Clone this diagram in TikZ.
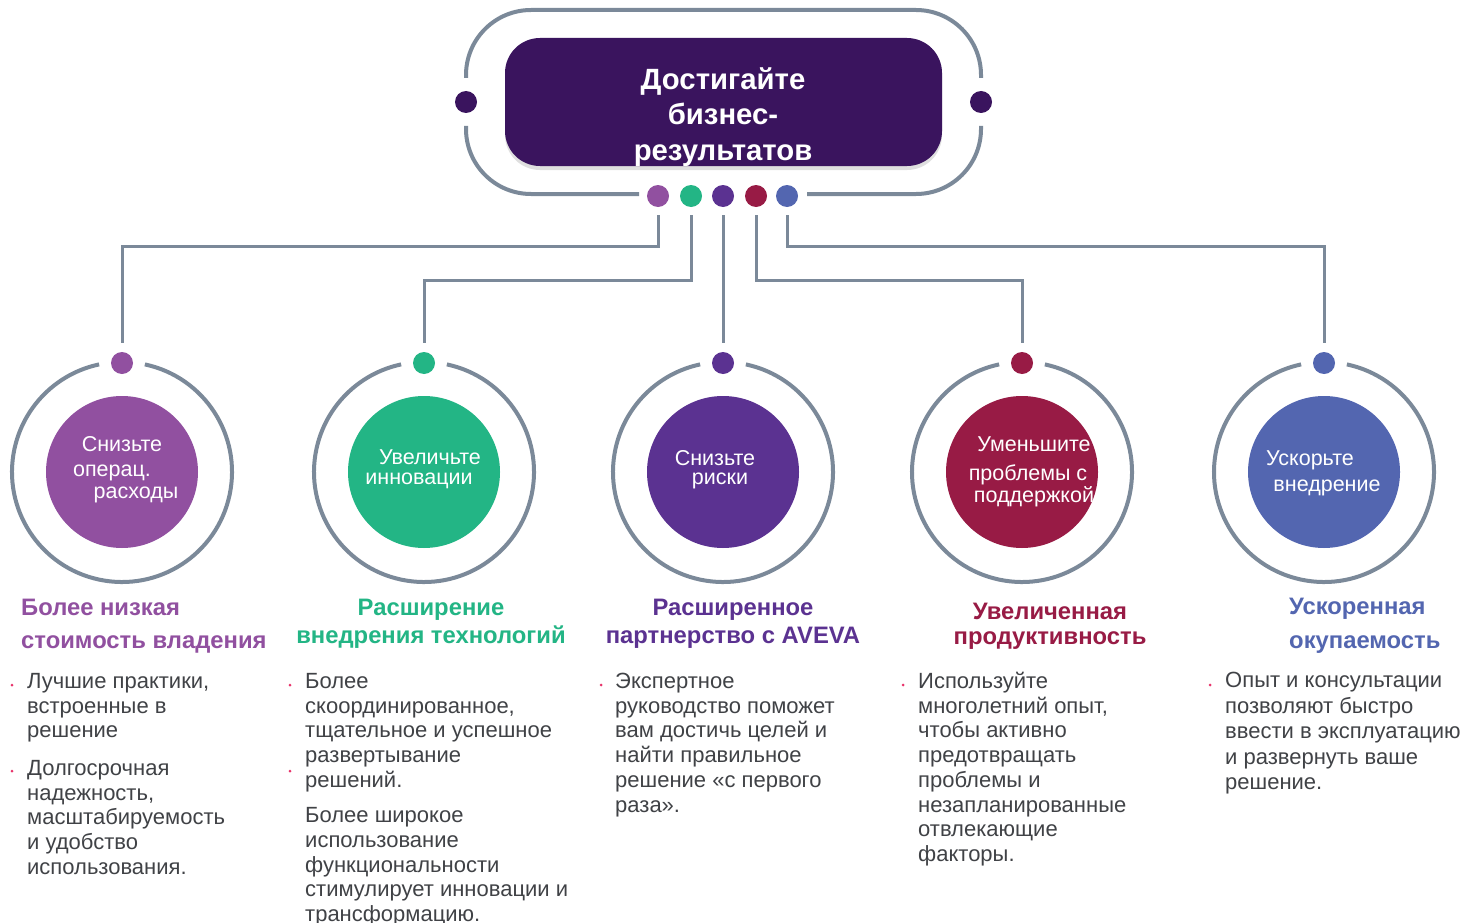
\documentclass[tikz,border=0pt]{standalone}
\usepackage{fontspec}
\setmainfont{Liberation Sans}
\usetikzlibrary{shadows}
\definecolor{framec}{HTML}{7B8999}
\definecolor{darkp}{HTML}{3A145E}
\definecolor{cA}{HTML}{9150A0}
\definecolor{cB}{HTML}{23B585}
\definecolor{cC}{HTML}{5B3291}
\definecolor{cD}{HTML}{981B45}
\definecolor{cE}{HTML}{5366B0}
\definecolor{bodyc}{HTML}{404246}
\definecolor{bulc}{HTML}{E8336B}
\begin{document}
\begin{tikzpicture}[x=1pt,y=-1pt,
  framel/.style={draw=framec,line width=4pt},
  conn/.style={draw=framec,line width=3pt,shorten <=8pt,shorten >=9pt},
  dotn/.style={circle,inner sep=0pt,minimum size=22pt},
  big/.style={circle,inner sep=0pt,minimum size=152pt},
  ctext/.style={text=white,font=\fontsize{21.5}{24}\selectfont,inner sep=0pt},
  head/.style={font=\fontsize{23.8}{28}\selectfont\bfseries,inner sep=0pt},
  bodyt/.style={text=bodyc,font=\fontsize{22}{24.7}\selectfont,align=left,inner sep=0pt,anchor=north west},
  bullet/.style={circle,fill=bulc,inner sep=0pt,minimum size=3pt}
]
\useasboundingbox (0,0) rectangle (1477,923);
\fill[white] (0,0) rectangle (1477,923);

% top frame
\draw[framel,rounded corners=65pt] (466,126) -- (466,194) -- (639,194);
\draw[framel,rounded corners=65pt] (807,194) -- (981,194) -- (981,126);
\draw[framel,rounded corners=65pt] (466,78) -- (466,10) -- (981,10) -- (981,78);

\node[fill=darkp,rounded corners=35pt,minimum width=437pt,minimum height=128pt,inner sep=0pt,
  drop shadow={shadow xshift=0pt,shadow yshift=-4pt,opacity=0.25}] (box) at (723.5,102) {};
\node[text=white,font=\fontsize{29.3}{35.5}\selectfont\bfseries,align=center,inner sep=0pt] (title) at (723,117) {Достигайте\\бизнес-\\результатов};

\node[dotn,fill=darkp] (dl) at (466,102) {};
\node[dotn,fill=darkp] (dr) at (981,102) {};

\node[dotn,fill=cA] (t1) at (658,196) {};
\node[dotn,fill=cB] (t2) at (691,196) {};
\node[dotn,fill=cC] (t3) at (723,196) {};
\node[dotn,fill=cD] (t4) at (756,196) {};
\node[dotn,fill=cE] (t5) at (787,196) {};

% rings
\foreach \cx/\col/\nm in {122/cA/1,424/cB/2,723/cC/3,1022/cD/4,1324/cE/5}{
  \draw[framel] (\cx,472) ++(282:110) arc[start angle=282,end angle=618,radius=110];
  \node[big,fill=\col] (c\nm) at (\cx,472) {};
  \node[dotn,fill=\col] (r\nm) at (\cx,363) {};
}

% connectors
\draw[conn] (t1.south) -- ++(0,39.5) -| (r1.north);
\draw[conn] (t2.south) -- ++(0,73.5) -| (r2.north);
\draw[conn] (t3.south) -- (r3.north);
\draw[conn] (t4.south) -- ++(0,73.5) -| (r4.north);
\draw[conn] (t5.south) -- ++(0,39.5) -| (r5.north);

% circle texts
\node[ctext] (a1) at (122,444) {Снизьте};
\node[ctext] (a2) at (112,473) {операц.};
\node[ctext] (a3) at (136,495) {расходы};
\node[ctext] (b1) at (430,457) {Увеличьте};
\node[ctext] (b2) at (419,481) {инновации};
\node[ctext] (e1) at (715,458) {Снизьте};
\node[ctext] (e2) at (720,481) {риски};
\node[ctext] (d1) at (1034,444) {Уменьшите};
\node[ctext] (d2) at (1028,475) {проблемы с};
\node[ctext] (d3) at (1034,497) {поддержкой};
\node[ctext] (f1) at (1310,460) {Ускорьте};
\node[ctext] (f2) at (1327,488) {внедрение};

% headers
\node[head,text=cA,align=left,anchor=north west,font=\fontsize{23.8}{33}\selectfont\bfseries] (h1) at (21,599) {Более низкая\\стоимость владения};
\node[head,text=cB,align=center,anchor=north] (h2) at (431,599) {Расширение\\внедрения технологий};
\node[head,text=cC,align=center,anchor=north] (h3) at (733,599) {Расширенное\\партнерство с AVEVA};
\node[head,text=cD,align=center,anchor=north,font=\fontsize{23.8}{25}\selectfont\bfseries] (h4) at (1050,603) {Увеличенная\\продуктивность};
\node[head,text=cE,align=left,anchor=north west,font=\fontsize{23.8}{34}\selectfont\bfseries] (h5) at (1289,598) {Ускоренная\\окупаемость};

% bodies
\node[bodyt] (p1) at (27,673) {Лучшие практики,\\встроенные в\\решение\\[13pt]Долгосрочная\\надежность,\\масштабируемость\\и удобство\\использования.};
\node[bodyt] (p2) at (305,673) {Более\\скоординированное,\\тщательное и успешное\\развертывание\\решений.\\[11pt]Более широкое\\использование\\функциональности\\стимулирует инновации и\\трансформацию.};
\node[bodyt] (p3) at (615,673) {Экспертное\\руководство поможет\\вам достичь целей и\\найти правильное\\решение «с первого\\раза».};
\node[bodyt] (p4) at (918,672) {Используйте\\многолетний опыт,\\чтобы активно\\предотвращать\\проблемы и\\незапланированные\\отвлекающие\\факторы.};
\node[bodyt,font=\fontsize{22}{25.5}\selectfont] (p5) at (1225,672) {Опыт и консультации\\позволяют быстро\\ввести в эксплуатацию\\и развернуть ваше\\решение.};

% bullets
\node[bullet] (u1) at (12,685) {};
\node[bullet] (u2) at (12,771) {};
\node[bullet] (u3) at (290,685) {};
\node[bullet] (u4) at (290,771) {};
\node[bullet] (u5) at (601,685) {};
\node[bullet] (u6) at (903,685) {};
\node[bullet] (u7) at (1210,685) {};
\end{tikzpicture}
\end{document}
